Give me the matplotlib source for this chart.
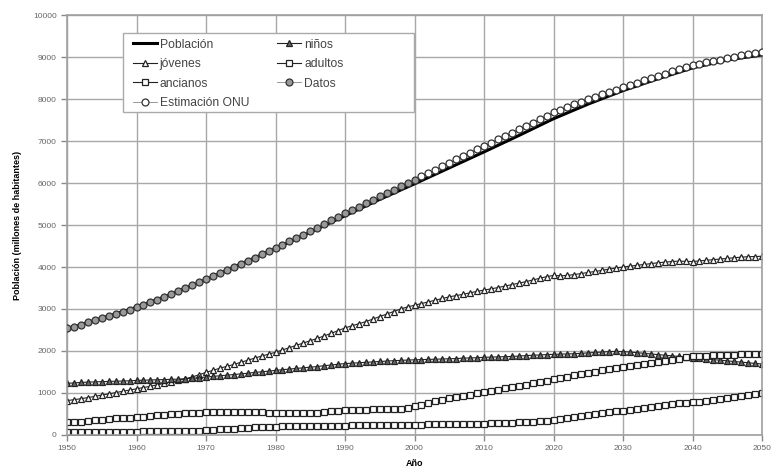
import numpy as np
import matplotlib
matplotlib.use('Agg')
import matplotlib.pyplot as plt
from matplotlib.patches import Rectangle

plt.rcParams['font.family'] = ['Liberation Sans', 'DejaVu Sans']

# Years with one marker per year
years = list(range(1950, 2051))

# Población (solid line, every 5 years)
pob_years = list(range(1950, 2051, 5))
poblacion = [2520, 2780, 3040, 3350, 3700, 4070, 4440, 4830, 5220, 5610, 5980,
             6360, 6740, 7130, 7530, 7880, 8200, 8480, 8740, 8930, 9050]

# circles (Datos up to 2000, Estimación ONU afterwards)
circulos = [2540, 2580, 2630, 2680, 2730, 2780, 2830, 2880, 2930, 2985,
            3040, 3100, 3160, 3225, 3290, 3355, 3420, 3490, 3560, 3640,
            3720, 3790, 3860, 3930, 4000, 4070, 4140, 4220, 4300, 4375,
            4450, 4530, 4610, 4690, 4770, 4855, 4940, 5025, 5110, 5195,
            5280, 5360, 5440, 5520, 5600, 5680, 5760, 5840, 5920, 6000,
            6080, 6160, 6240, 6320, 6400, 6480, 6560, 6640, 6720, 6800,
            6880, 6960, 7040, 7120, 7200, 7280, 7360, 7440, 7520, 7600,
            7680, 7745, 7810, 7870, 7930, 7990, 8050, 8110, 8165, 8220,
            8280, 8335, 8390, 8445, 8500, 8555, 8605, 8655, 8705, 8755,
            8800, 8835, 8870, 8905, 8940, 8975, 9010, 9040, 9070, 9100,
            9130]

ninos = [1230, 1240, 1250, 1260, 1265, 1270, 1275, 1280, 1285, 1290,
         1300, 1305, 1310, 1315, 1320, 1325, 1330, 1340, 1350, 1365,
         1380, 1395, 1410, 1425, 1440, 1455, 1470, 1490, 1505, 1520,
         1540, 1555, 1570, 1585, 1600, 1615, 1630, 1650, 1665, 1685,
         1700, 1710, 1720, 1730, 1740, 1750, 1760, 1770, 1775, 1785,
         1790, 1795, 1800, 1805, 1810, 1815, 1820, 1830, 1835, 1840,
         1850, 1855, 1860, 1865, 1870, 1880, 1890, 1900, 1905, 1915,
         1920, 1925, 1930, 1935, 1945, 1955, 1965, 1975, 1985, 1990,
         1985, 1975, 1960, 1945, 1930, 1915, 1900, 1885, 1870, 1855,
         1840, 1825, 1810, 1795, 1780, 1765, 1750, 1735, 1720, 1705,
         1690]

jovenes = [820, 840, 865, 890, 920, 950, 980, 1010, 1040, 1070,
           1100, 1130, 1160, 1195, 1230, 1265, 1300, 1340, 1380, 1435,
           1490, 1540, 1590, 1635, 1680, 1730, 1780, 1830, 1880, 1925,
           1970, 2025, 2080, 2135, 2190, 2245, 2300, 2360, 2420, 2485,
           2550, 2600, 2650, 2700, 2760, 2820, 2880, 2940, 3000, 3050,
           3090, 3130, 3170, 3210, 3250, 3290, 3320, 3350, 3385, 3420,
           3450, 3480, 3510, 3545, 3580, 3615, 3650, 3690, 3730, 3770,
           3800, 3790, 3800, 3820, 3845, 3870, 3895, 3920, 3950, 3975,
           4000, 4020, 4040, 4060, 4080, 4100, 4115, 4130, 4140, 4135,
           4130, 4145, 4160, 4175, 4190, 4205, 4220, 4235, 4245, 4250,
           4255]

adultos = [300, 310, 320, 335, 350, 365, 380, 395, 405, 415,
           425, 440, 455, 470, 485, 500, 510, 520, 530, 535,
           540, 545, 550, 555, 555, 555, 550, 545, 540, 535,
           530, 525, 520, 520, 520, 525, 535, 545, 560, 575,
           590, 595, 600, 605, 610, 615, 620, 625, 630, 650,
           680, 720, 760, 800, 840, 875, 905, 935, 960, 990,
           1020, 1050, 1080, 1110, 1140, 1170, 1200, 1230, 1260, 1295,
           1330, 1360, 1390, 1420, 1450, 1480, 1510, 1540, 1565, 1590,
           1610, 1635, 1660, 1685, 1710, 1735, 1760, 1790, 1820, 1850,
           1870, 1880, 1890, 1900, 1905, 1910, 1915, 1920, 1930, 1935,
           1940]

ancianos = [60, 62, 64, 66, 68, 70, 72, 75, 78, 80,
            82, 85, 88, 90, 92, 95, 98, 100, 103, 105,
            108, 112, 140, 145, 150, 160, 170, 180, 190, 195,
            200, 203, 206, 209, 212, 215, 218, 220, 222, 224,
            226, 228, 230, 232, 234, 236, 238, 240, 242, 244,
            246, 248, 250, 252, 255, 258, 261, 264, 267, 270,
            273, 278, 283, 288, 293, 298, 305, 315, 330, 345,
            360, 385, 410, 435, 460, 485, 505, 525, 545, 560,
            575, 600, 625, 650, 675, 700, 720, 740, 755, 770,
            780, 790, 800, 830, 860, 890, 915, 940, 960, 980,
            1000]

corte = 2000  # last year of "Datos"

fig = plt.figure(figsize=(7.74, 4.72), dpi=100)
ax = fig.add_axes([0.0866, 0.0784, 0.8979, 0.8898])

yrs = np.array(years)
circ = np.array(circulos)
mask_d = yrs <= corte

ms = 5.0
mew = 0.9
dark = '#222222'

h_pob, = ax.plot(pob_years, poblacion, color='black', lw=2.2, zorder=3, label='Población')
h_jov, = ax.plot(years, jovenes, color=dark, lw=0.8, marker='^', ms=ms, mfc='white', mec=dark, mew=mew, label='jóvenes')
h_anc, = ax.plot(years, ancianos, color=dark, lw=0.8, marker='s', ms=ms, mfc='white', mec=dark, mew=mew, label='ancianos')
h_est, = ax.plot(yrs[~mask_d], circ[~mask_d], color='#888888', lw=0.6, marker='o', ms=ms, mfc='white', mec='#333333', mew=mew, zorder=4, label='Estimación ONU')
h_nin, = ax.plot(years, ninos, color=dark, lw=0.8, marker='^', ms=ms, mfc='#666666', mec=dark, mew=mew, label='niños')
h_adu, = ax.plot(years, adultos, color=dark, lw=0.8, marker='s', ms=ms, mfc='white', mec=dark, mew=mew, label='adultos')
h_dat, = ax.plot(yrs[mask_d], circ[mask_d], color='#888888', lw=0.6, marker='o', ms=ms, mfc='#999999', mec='#333333', mew=mew, zorder=4, label='Datos')

ax.set_xlim(1950, 2050)
ax.set_ylim(0, 10000)
ax.set_xticks(range(1950, 2051, 10))
ax.set_yticks(range(0, 10001, 1000))
ax.grid(True, color='#a8a8a8', lw=1.0)
ax.set_axisbelow(True)
for s in ax.spines.values():
    s.set_color('#a0a0a0')
    s.set_linewidth(1.2)
ax.tick_params(axis='both', labelsize=6, colors='#888888', length=4, width=1, direction='out')
ax.tick_params(axis='both', labelcolor='#666666')

ax.set_xlabel('Año', fontsize=6.5, fontweight='bold', labelpad=5)
ax.set_ylabel('Población (millones de habitantes)', fontsize=6.5, fontweight='bold', labelpad=8)

# legend box drawn by hand (reference box is wider than its contents)
fig.patches.append(Rectangle((123 / 774, 1 - 112 / 472), (414 - 123) / 774, 79 / 472,
                             transform=fig.transFigure, facecolor='white',
                             edgecolor='#aaaaaa', lw=1.0, zorder=5))
leg = fig.legend(handles=[h_pob, h_jov, h_anc, h_est, h_nin, h_adu, h_dat],
                 ncol=2, loc='upper left', bbox_to_anchor=(129 / 774, 1 - 35 / 472),
                 fontsize=8.7, frameon=False, handlelength=2.0,
                 labelspacing=0.62, columnspacing=2.3, handletextpad=0.25,
                 borderpad=0.3, borderaxespad=0)
leg.set_zorder(6)
for t in leg.get_texts():
    t.set_color('#444444')

fig.savefig('out.png', dpi=100)
